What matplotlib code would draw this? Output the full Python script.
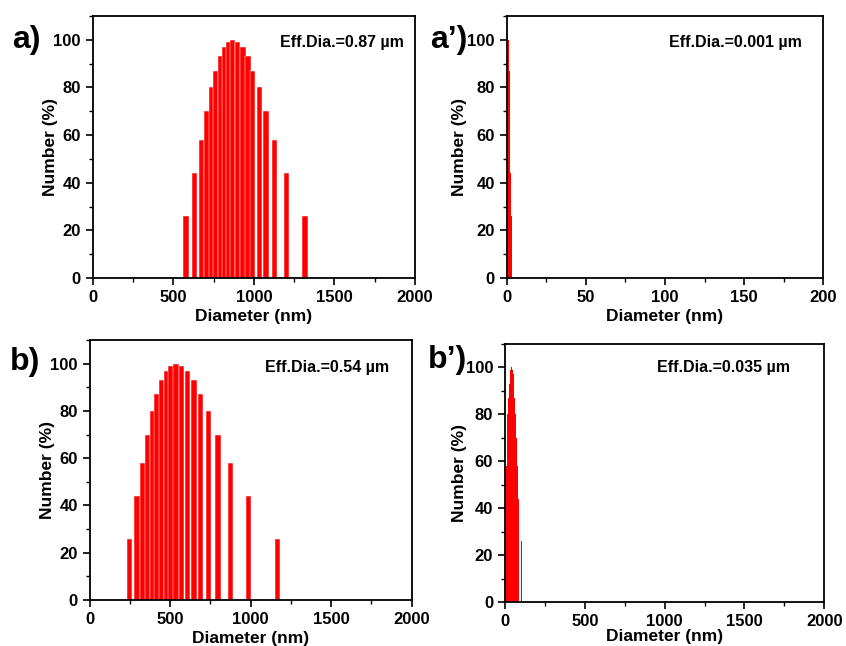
import matplotlib
matplotlib.use("Agg")
import matplotlib.pyplot as plt
from matplotlib.ticker import MultipleLocator

plt.rcParams['font.family'] = ['Liberation Sans', 'DejaVu Sans']
plt.rcParams['font.weight'] = 'bold'

# panel a) diameters (nm) and number (%)
diam_a = [579, 633, 674, 709, 736, 763, 792, 819, 841, 868,
          900, 932, 963, 993, 1034, 1075, 1127, 1203, 1317]
num_a = [26, 44, 58, 70, 80, 87, 93, 97, 99, 100,
         99, 97, 93, 87, 80, 70, 58, 44, 26]

# panel a')
diam_a2 = [0.2, 0.35, 0.5, 0.65, 0.8, 0.95, 1.1, 1.25, 1.4, 1.55,
           1.7, 1.85, 2.0, 2.15, 2.4, 2.9]
num_a2 = [70, 80, 87, 93, 97, 99, 100, 99, 97, 93,
          87, 80, 70, 58, 44, 26]

# panel b)
diam_b = [248, 294, 331, 360, 389, 418, 447, 476, 505, 536,
          571, 607, 648, 687, 737, 797, 876, 985, 1165]
num_b = [26, 44, 58, 70, 80, 87, 93, 97, 99, 100,
         99, 97, 93, 87, 80, 70, 58, 44, 26]

# panel b')
diam_b2 = [3, 6, 10, 14, 18, 22, 26, 31, 36, 42,
           47, 52, 57, 62, 68, 73, 78, 83, 105]
num_b2 = [26, 44, 58, 70, 80, 87, 93, 97, 99, 100,
          99, 97, 93, 87, 80, 70, 58, 44, 26]

fig = plt.figure(figsize=(8.46, 6.46), dpi=100)
W, H = 846, 646


def px_axes(x0, y0, x1, y1):
    return fig.add_axes([x0 / W, 1 - y1 / H, (x1 - x0) / W, (y1 - y0) / H])


def style(ax, xmax, xmaj, xmin, ylab_x, xpad=3):
    ax.set_xlim(0, xmax)
    ax.set_ylim(0, 110)
    ax.xaxis.set_major_locator(MultipleLocator(xmaj))
    ax.xaxis.set_minor_locator(MultipleLocator(xmin))
    ax.yaxis.set_major_locator(MultipleLocator(20))
    ax.yaxis.set_minor_locator(MultipleLocator(10))
    ax.tick_params(which='major', direction='out', length=5, width=1.2, labelsize=12)
    ax.tick_params(which='minor', direction='out', length=3, width=1.0)
    for lab in ax.get_xticklabels() + ax.get_yticklabels():
        lab.set_fontweight('bold')
    for sp in ax.spines.values():
        sp.set_linewidth(1.3)
    ax.set_xlabel('Diameter (nm)', fontsize=12.5, fontweight='bold', labelpad=xpad)
    ax.set_ylabel('Number (%)', fontsize=12.5, fontweight='bold')
    ax.yaxis.set_label_coords(ylab_x, 0.5)


ax1 = px_axes(92.7, 16, 415, 278)
ax1.bar(diam_a, num_a, width=33, color='#ff0000', edgecolor='white', linewidth=0.35)
style(ax1, 2000, 500, 250, -0.109)
ax1.text(0.581, 0.897, 'Eff.Dia.=0.87 µm', transform=ax1.transAxes,
         fontsize=11.5, fontweight='bold', va='center', ha='left')

ax2 = px_axes(506.7, 16, 823.3, 278)
ax2.bar(diam_a2, num_a2, width=0.3, color='#ff0000', linewidth=0)
style(ax2, 200, 50, 25, -0.124)
ax2.text(0.513, 0.90, 'Eff.Dia.=0.001 µm', transform=ax2.transAxes,
         fontsize=11.5, fontweight='bold', va='center', ha='left')

ax3 = px_axes(89.7, 340, 411.7, 600)
ax3.bar(diam_b, num_b, width=33, color='#ff0000', edgecolor='white', linewidth=0.35)
style(ax3, 2000, 500, 250, -0.109)
ax3.text(0.544, 0.896, 'Eff.Dia.=0.54 µm', transform=ax3.transAxes,
         fontsize=11.5, fontweight='bold', va='center', ha='left')

ax4 = px_axes(505, 344, 824.3, 602)
ax4.bar(diam_b2, num_b2, width=5, color='#ff0000', linewidth=0)
style(ax4, 2000, 500, 250, -0.119, xpad=0)
ax4.text(0.476, 0.909, 'Eff.Dia.=0.035 µm', transform=ax4.transAxes,
         fontsize=11.5, fontweight='bold', va='center', ha='left')

fig.text(12 / W, 1 - 40 / H, 'a)', fontsize=23, fontweight='bold', va='center', ha='left')
fig.text(430 / W, 1 - 40 / H, 'a’)', fontsize=23, fontweight='bold', va='center', ha='left')
fig.text(10 / W, 1 - 362 / H, 'b)', fontsize=23, fontweight='bold', va='center', ha='left')
fig.text(428 / W, 1 - 360 / H, 'b’)', fontsize=23, fontweight='bold', va='center', ha='left')

fig.savefig('out.png', dpi=100)
